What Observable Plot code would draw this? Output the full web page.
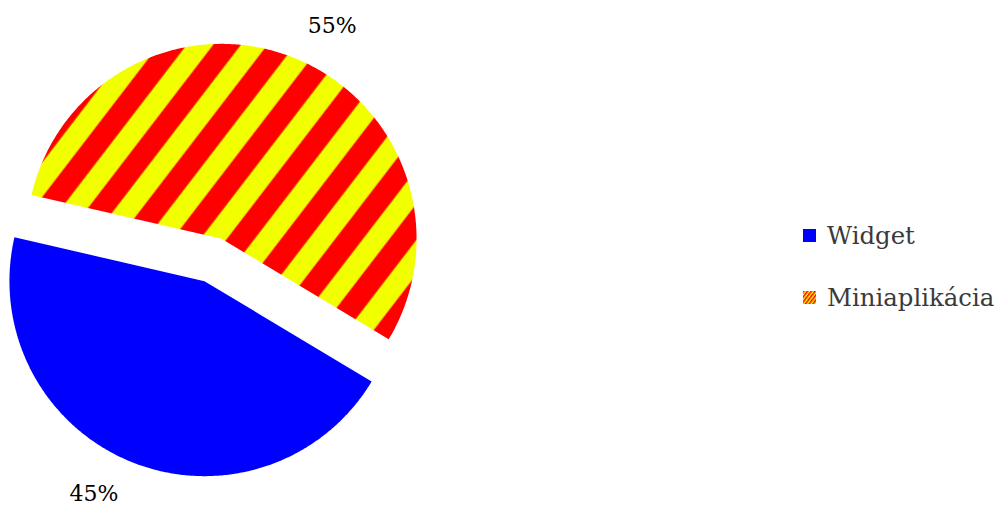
<!DOCTYPE html>
<html><head><meta charset="utf-8">
<script src="https://cdn.jsdelivr.net/npm/d3@7"></script>
<script src="https://cdn.jsdelivr.net/npm/@observablehq/plot@0.6"></script>
<style>
body{margin:0;background:#fff;}
#wrap{position:relative;width:998px;height:509px;overflow:hidden;}
.legend{position:absolute;left:803px;top:222px;font-family:"DejaVu Serif",serif;font-size:24.4px;color:#3a3a3a;white-space:nowrap;}
.legend .row{display:flex;align-items:center;height:26px;margin-bottom:36px;}
.legend svg{margin-right:11px;flex:none;}
</style></head>
<body><div id="wrap"></div>
<script>
const categories = ["Widget", "Miniaplikácia"];
const values = [45, 55];
const labels = ["45%", "55%"];
const fills = ["#0000ff", "url(#stripes)"];

// layout
const W = 998, H = 509;
const cx = 212.5, cy = 259.5, R = 195, explode = 22.8, labelDist = 230;
const startAngle = 121 * Math.PI / 180;

const pie = d3.pie().sort(null).startAngle(startAngle).endAngle(startAngle + 2 * Math.PI)
  .value((d, i) => values[i]);
const arcs = pie(categories);

const slices = arcs.map((a, i) => {
  const mid = (a.startAngle + a.endAngle) / 2;
  const ax = cx + explode * Math.sin(mid), ay = cy - explode * Math.cos(mid);
  const pts = [{x: ax, y: ay}];
  const n = Math.ceil((a.endAngle - a.startAngle) / (Math.PI / 360));
  for (let k = 0; k <= n; k++) {
    const t = a.startAngle + (a.endAngle - a.startAngle) * k / n;
    pts.push({x: ax + R * Math.sin(t), y: ay - R * Math.cos(t)});
  }
  pts.push({x: ax, y: ay});
  const lx = ax + labelDist * Math.sin(mid), ly = ay - labelDist * Math.cos(mid);
  return {name: categories[i], fill: fills[i], pts, label: {x: lx, y: ly, text: labels[i], right: Math.sin(mid) >= 0}};
});

const labelData = slices.map(s => s.label);

const chart = Plot.plot({
  width: W, height: H, margin: 0,
  x: {domain: [0, W], axis: null},
  y: {domain: [H, 0], axis: null},
  style: {fontFamily: "DejaVu Serif", background: "transparent"},
  marks: [
    ...slices.map(s => Plot.line(s.pts, {x: "x", y: "y", fill: s.fill, stroke: "none"})),
    Plot.text(labelData.filter(d => d.right), {x: "x", y: "y", text: "text", textAnchor: "start", fontSize: 22, fill: "#000"}),
    Plot.text(labelData.filter(d => !d.right), {x: "x", y: "y", text: "text", textAnchor: "end", fontSize: 22, fill: "#000"})
  ]
});

const defs = d3.select(chart).insert("defs", ":first-child");
const p = defs.append("pattern").attr("id", "stripes").attr("patternUnits", "userSpaceOnUse")
  .attr("width", 43).attr("height", 43).attr("patternTransform", "rotate(37.5)");
p.append("rect").attr("width", 43).attr("height", 43).attr("fill", "#ff0000");
p.append("rect").attr("x", 2.7).attr("width", 21).attr("height", 43).attr("fill", "#f2ff00");

document.getElementById("wrap").appendChild(chart);

// legend
const legend = d3.select("#wrap").append("div").attr("class", "legend");
categories.forEach((c, i) => {
  const row = legend.append("div").attr("class", "row");
  const sv = row.append("svg").attr("width", 13).attr("height", 13);
  if (i === 1) {
    const pd = sv.append("defs").append("pattern").attr("id", "sw").attr("patternUnits", "userSpaceOnUse")
      .attr("width", 3).attr("height", 3).attr("patternTransform", "rotate(37)");
    pd.append("rect").attr("width", 3).attr("height", 3).attr("fill", "#f2ff00");
    pd.append("rect").attr("width", 1.5).attr("height", 3).attr("fill", "#ff0000");
    sv.append("rect").attr("width", 13).attr("height", 13).attr("fill", "url(#sw)");
  } else {
    sv.append("rect").attr("width", 13).attr("height", 13).attr("fill", fills[i]);
  }
  row.append("span").text(c);
});
</script>
</body></html>
